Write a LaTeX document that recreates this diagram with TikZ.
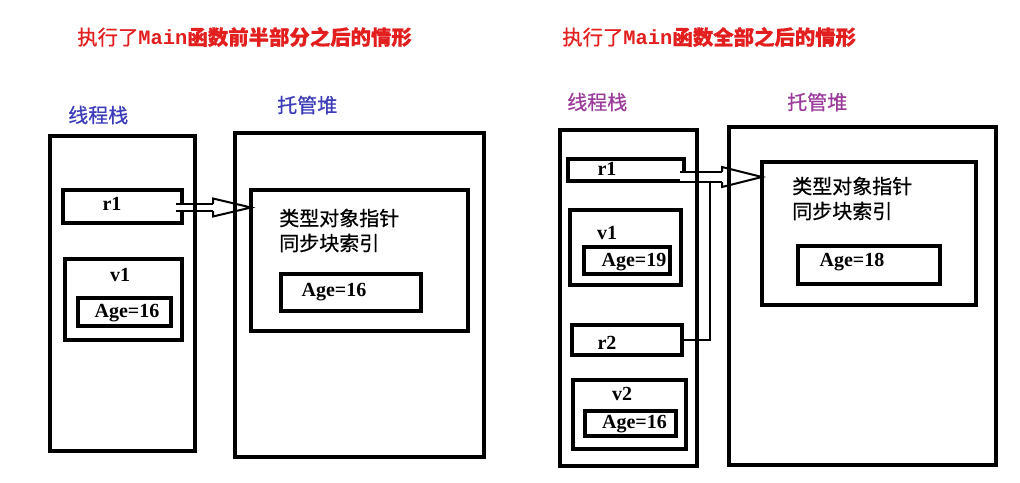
\documentclass[tikz,border=0pt]{standalone}
\usepackage{fontspec}
\setmainfont{Liberation Serif}
\newfontfamily\cjk[FakeBold=0.6]{Noto Sans CJK SC}
\newfontfamily\monof{Liberation Mono}
\usetikzlibrary{calc}
\definecolor{titlered}{RGB}{226,30,30}
\definecolor{lblblue}{RGB}{60,60,185}
\definecolor{lblpurple}{RGB}{155,60,155}
\begin{document}
\begin{tikzpicture}[x=0.75pt,y=-0.75pt,
  bx/.style={draw, line width=3pt, inner sep=0pt, outer sep=0pt},
  agebx/.style={draw, line width=3.5pt, inner sep=0pt, outer sep=0pt},
  lat/.style={font=\fontsize{15pt}{18pt}\selectfont\bfseries, inner sep=0pt},
  cj/.style={font=\fontsize{15pt}{18pt}\selectfont\cjk, inner sep=0pt, anchor=west},
  ttl/.style={font=\fontsize{15.3pt}{18pt}\selectfont, text=titlered, inner sep=0pt, anchor=west},
  shaft/.style={double, line width=1.5pt, line cap=butt},
  head/.style={line width=1.5pt, line join=miter},
  conn/.style={line width=1.5pt}]
\fill[white] (0,0) rectangle (1020,482);
\path[use as bounding box] (0,0) rectangle (1020,482);

% titles
\node[ttl] (t1) at (77,37) {\cjk 执行了\monof\bfseries Main\cjk 函数前半部分之后的情形};
\node[ttl] (t2) at (562,37) {\cjk 执行了\monof\bfseries Main\cjk 函数全部之后的情形};

% ---------- left panel ----------
\node[cj, text=lblblue] (lstk) at (68,115) {线程栈};
\node[cj, text=lblblue] (lheap) at (277,105) {托管堆};

\node[bx, minimum width=89.25pt, minimum height=24.75pt] (r1L) at (122.5,206.5) {};
\node[lat] (r1Ltx) at (112,204) {r1};
\node[bx, minimum width=87.75pt, minimum height=60.75pt] (v1L) at (123.5,299.5) {};
\node[lat] (v1Ltx) at (120,275) {v1};
\node[agebx, minimum width=69.75pt, minimum height=21pt] (ageV1L) at (124.5,312) {};
\node[lat] (ageV1Ltx) at (127,313) {Age=16};

\node[bx, minimum width=162.75pt, minimum height=105.75pt] (objL) at (359.5,260.5) {};
\node[cj] (objL1) at (279,218) {类型对象指针};
\node[cj] (objL2) at (279,243) {同步块索引};
\node[agebx, minimum width=105pt, minimum height=27.75pt] (ageObjL) at (351,292.5) {};
\node[lat] (ageObjLtx) at (334,292) {Age=16};

\coordinate (aL0) at ($(r1L.east)+(-6,1)$);
\coordinate (aLt) at (objL.west |- aL0);
\coordinate (aLb) at ($(aLt)+(-38,0)$);
\draw[shaft, double distance=4pt] (aL0) -- (aLb);
\draw[head] ($(aLb)+(0,-3.7)$) -- ($(aLb)+(0,-9)$) -- (aLt) -- ($(aLb)+(0,9)$) -- ($(aLb)+(0,3.7)$);

\node[bx, minimum width=108.75pt, minimum height=236.25pt] (stackL) at (122.5,293.5) {};
\node[bx, minimum width=186.75pt, minimum height=243pt] (heapL) at (359.5,295) {};

% ---------- right panel ----------
\node[cj, text=lblpurple] (rstk) at (567,102) {线程栈};
\node[cj, text=lblpurple] (rheap) at (787,102) {托管堆};

\node[bx, minimum width=87pt, minimum height=16.5pt] (r1R) at (626,170) {};
\node[lat] (r1Rtx) at (607,169) {r1};
\node[bx, minimum width=83.25pt, minimum height=56.25pt] (v1R) at (625.5,247.5) {};
\node[lat] (v1Rtx) at (607,233) {v1};
\node[agebx, minimum width=64.5pt, minimum height=20.25pt] (ageV1R) at (627,260.5) {};
\node[lat] (ageV1Rtx) at (634,262) {Age=19};
\node[bx, minimum width=82.5pt, minimum height=22.5pt] (r2R) at (627,340) {};
\node[lat] (r2Rtx) at (607,343) {r2};
\node[bx, minimum width=84.75pt, minimum height=51.75pt] (v2R) at (629.5,414.5) {};
\node[lat] (v2Rtx) at (622,394) {v2};
\node[agebx, minimum width=68.25pt, minimum height=18.75pt] (ageV2R) at (630.5,423.5) {};
\node[lat] (ageV2Rtx) at (634.5,424) {Age=16};

\node[bx, minimum width=160.5pt, minimum height=107.25pt] (objR) at (869,233.5) {};
\node[cj] (objR1) at (792,186) {类型对象指针};
\node[cj] (objR2) at (792,211) {同步块索引};
\node[agebx, minimum width=106.5pt, minimum height=28.5pt] (ageObjR) at (869,265) {};
\node[lat] (ageObjRtx) at (852,262) {Age=18};

\coordinate (aR0) at ($(r1R.east)+(-4,7)$);
\coordinate (aRt) at (objR.west |- aR0);
\coordinate (aRb) at ($(aRt)+(-40,0)$);
\coordinate (aRj) at ($(aR0)+(30,5)$);
\draw[shaft, double distance=6pt] (aR0) -- (aRb);
\draw[head] ($(aRb)+(0,-5)$) -- ($(aRb)+(0,-10)$) -- (aRt) -- ($(aRb)+(0,10)$) -- ($(aRb)+(0,5)$);
\draw[conn] (r2R.east) -| (aRj);

\node[bx, minimum width=102.75pt, minimum height=252pt] (stackR) at (628.5,298) {};
\node[bx, minimum width=200.25pt, minimum height=253.5pt] (heapR) at (862.5,296) {};
\end{tikzpicture}
\end{document}
